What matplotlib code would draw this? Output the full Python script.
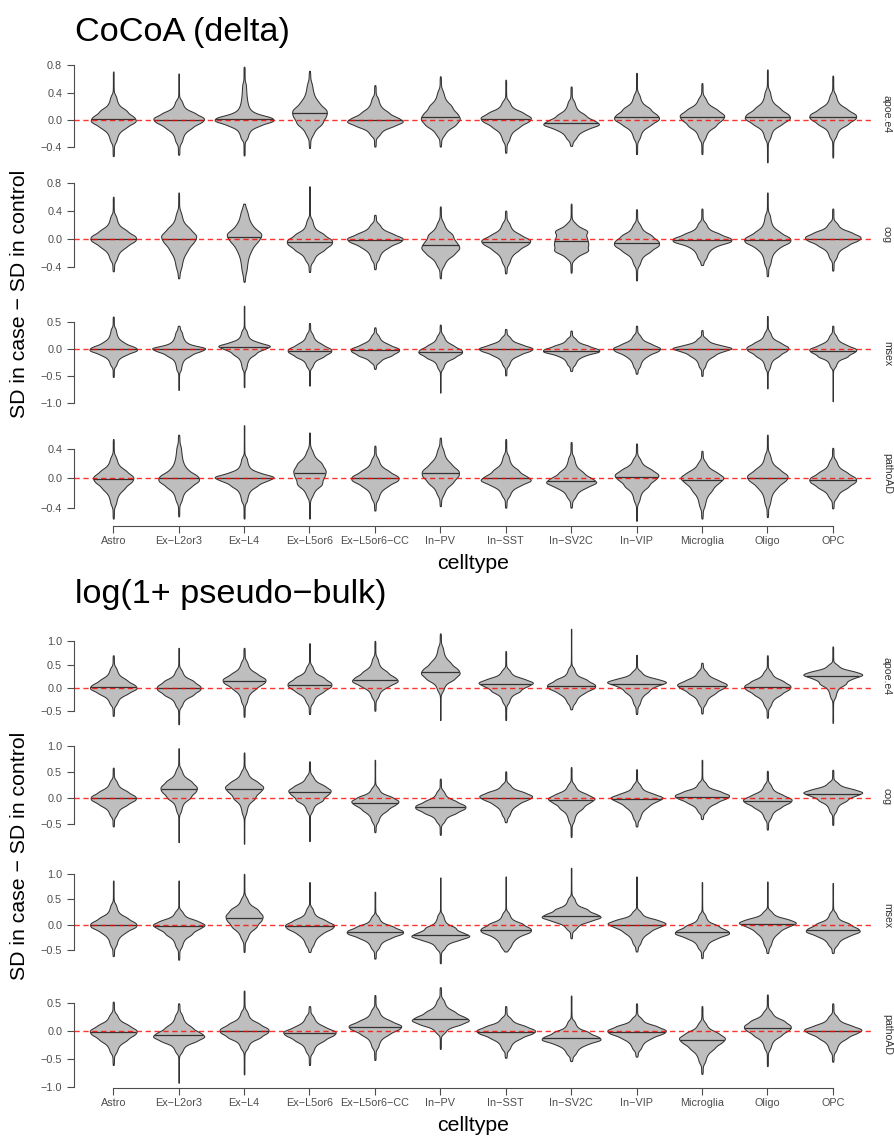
import numpy as np
import matplotlib
matplotlib.use('Agg')
import matplotlib.pyplot as plt

plt.rcParams['font.family'] = ['Liberation Sans', 'DejaVu Sans']

celltypes = ['Astro', 'Ex\u2212L2or3', 'Ex\u2212L4', 'Ex\u2212L5or6', 'Ex\u2212L5or6\u2212CC', 'In\u2212PV',
             'In\u2212SST', 'In\u2212SV2C', 'In\u2212VIP', 'Microglia', 'Oligo', 'OPC']
covariates = ['apoe.e4', 'cog', 'msex', 'pathoAD']

# quantile levels for each violin row: min, 2%, 25%, median, 75%, 98%, max
quant_levels = [0, 0.02, 0.25, 0.5, 0.75, 0.98, 1]

# ---- CoCoA (delta) ----
cocoa_apoe = [
    [-0.53, -0.33, -0.08, 0.01, 0.11, 0.37, 0.71],
    [-0.51, -0.34, -0.09, 0.00, 0.08, 0.30, 0.68],
    [-0.52, -0.29, -0.06, 0.01, 0.09, 0.54, 0.78],
    [-0.41, -0.24, -0.02, 0.10, 0.22, 0.55, 0.72],
    [-0.39, -0.24, -0.07, 0.00, 0.09, 0.34, 0.51],
    [-0.39, -0.24, -0.05, 0.05, 0.17, 0.44, 0.64],
    [-0.48, -0.32, -0.08, 0.01, 0.09, 0.29, 0.59],
    [-0.38, -0.29, -0.11, -0.04, 0.05, 0.29, 0.49],
    [-0.50, -0.29, -0.05, 0.04, 0.14, 0.39, 0.69],
    [-0.50, -0.29, -0.06, 0.04, 0.13, 0.34, 0.54],
    [-0.62, -0.29, -0.04, 0.05, 0.15, 0.44, 0.74],
    [-0.55, -0.27, -0.04, 0.05, 0.14, 0.39, 0.65],
]
cocoa_cog = [
    [-0.46, -0.31, -0.08, 0.01, 0.10, 0.35, 0.61],
    [-0.56, -0.43, -0.12, 0.01, 0.12, 0.40, 0.67],
    [-0.61, -0.48, -0.11, 0.03, 0.14, 0.42, 0.51],
    [-0.47, -0.33, -0.13, -0.04, 0.05, 0.30, 0.76],
    [-0.43, -0.31, -0.09, -0.01, 0.06, 0.23, 0.35],
    [-0.56, -0.40, -0.19, -0.09, 0.03, 0.26, 0.47],
    [-0.49, -0.36, -0.13, -0.04, 0.04, 0.25, 0.41],
    [-0.48, -0.29, -0.14, -0.03, 0.09, 0.25, 0.51],
    [-0.59, -0.38, -0.15, -0.06, 0.03, 0.23, 0.43],
    [-0.37, -0.29, -0.08, -0.01, 0.06, 0.25, 0.44],
    [-0.53, -0.38, -0.10, -0.01, 0.08, 0.37, 0.67],
    [-0.45, -0.29, -0.07, 0.01, 0.08, 0.25, 0.44],
]
cocoa_msex = [
    [-0.51, -0.31, -0.07, 0.01, 0.10, 0.40, 0.61],
    [-0.75, -0.40, -0.09, 0.00, 0.07, 0.34, 0.44],
    [-0.70, -0.37, -0.06, 0.04, 0.11, 0.37, 0.81],
    [-0.67, -0.34, -0.11, -0.02, 0.07, 0.31, 0.49],
    [-0.36, -0.25, -0.09, -0.01, 0.07, 0.28, 0.41],
    [-0.80, -0.37, -0.13, -0.04, 0.05, 0.28, 0.46],
    [-0.48, -0.31, -0.08, 0.00, 0.07, 0.25, 0.38],
    [-0.40, -0.30, -0.09, -0.02, 0.05, 0.22, 0.35],
    [-0.45, -0.34, -0.09, 0.00, 0.08, 0.28, 0.44],
    [-0.49, -0.34, -0.09, 0.00, 0.06, 0.22, 0.36],
    [-0.72, -0.37, -0.09, 0.01, 0.10, 0.34, 0.62],
    [-0.96, -0.34, -0.11, -0.02, 0.06, 0.28, 0.44],
]
cocoa_path = [
    [-0.55, -0.37, -0.11, -0.01, 0.08, 0.31, 0.54],
    [-0.52, -0.33, -0.09, 0.00, 0.10, 0.45, 0.60],
    [-0.55, -0.33, -0.08, 0.00, 0.06, 0.30, 0.73],
    [-0.55, -0.26, -0.05, 0.07, 0.18, 0.40, 0.63],
    [-0.44, -0.30, -0.08, 0.00, 0.08, 0.29, 0.45],
    [-0.38, -0.24, -0.03, 0.07, 0.17, 0.42, 0.56],
    [-0.40, -0.26, -0.07, 0.00, 0.09, 0.33, 0.54],
    [-0.40, -0.28, -0.10, -0.03, 0.06, 0.31, 0.50],
    [-0.58, -0.33, -0.08, 0.02, 0.10, 0.29, 0.48],
    [-0.55, -0.40, -0.13, -0.02, 0.06, 0.24, 0.38],
    [-0.53, -0.37, -0.09, 0.01, 0.10, 0.35, 0.60],
    [-0.41, -0.28, -0.10, -0.02, 0.06, 0.26, 0.42],
]

# ---- log(1+ pseudo-bulk) ----
bulk_apoe = [
    [-0.60, -0.37, -0.09, 0.02, 0.14, 0.45, 0.70],
    [-0.78, -0.41, -0.12, 0.00, 0.12, 0.41, 0.86],
    [-0.62, -0.34, 0.02, 0.15, 0.27, 0.59, 0.86],
    [-0.56, -0.34, -0.05, 0.07, 0.19, 0.49, 0.96],
    [-0.49, -0.23, 0.07, 0.18, 0.31, 0.66, 1.01],
    [-0.69, -0.09, 0.22, 0.35, 0.50, 0.90, 1.17],
    [-0.69, -0.34, -0.04, 0.08, 0.17, 0.41, 0.79],
    [-0.46, -0.34, -0.07, 0.04, 0.15, 0.45, 1.27],
    [-0.56, -0.37, -0.04, 0.09, 0.17, 0.38, 0.71],
    [-0.55, -0.37, -0.08, 0.04, 0.14, 0.38, 0.54],
    [-0.64, -0.41, -0.11, 0.01, 0.12, 0.38, 0.70],
    [-0.75, -0.23, 0.12, 0.25, 0.33, 0.52, 0.89],
]
bulk_cog = [
    [-0.54, -0.35, -0.10, 0.00, 0.10, 0.35, 0.58],
    [-0.84, -0.28, 0.04, 0.17, 0.29, 0.57, 0.95],
    [-0.87, -0.32, 0.03, 0.17, 0.28, 0.54, 0.87],
    [-0.82, -0.28, -0.01, 0.11, 0.21, 0.44, 0.70],
    [-0.65, -0.47, -0.20, -0.09, 0.00, 0.22, 0.73],
    [-0.70, -0.48, -0.26, -0.17, -0.08, 0.15, 0.37],
    [-0.46, -0.35, -0.09, 0.01, 0.09, 0.28, 0.51],
    [-0.74, -0.47, -0.16, -0.04, 0.05, 0.28, 0.59],
    [-0.54, -0.41, -0.13, -0.02, 0.06, 0.28, 0.55],
    [-0.40, -0.28, -0.06, 0.03, 0.11, 0.32, 0.73],
    [-0.60, -0.41, -0.15, -0.05, 0.04, 0.28, 0.52],
    [-0.51, -0.28, -0.02, 0.08, 0.15, 0.32, 0.54],
]
bulk_msex = [
    [-0.61, -0.42, -0.11, 0.00, 0.11, 0.42, 0.87],
    [-0.68, -0.45, -0.15, -0.03, 0.06, 0.29, 0.87],
    [-0.53, -0.29, 0.00, 0.14, 0.27, 0.55, 1.00],
    [-0.53, -0.42, -0.14, -0.03, 0.07, 0.35, 0.84],
    [-0.66, -0.48, -0.23, -0.14, -0.05, 0.19, 0.65],
    [-0.75, -0.49, -0.27, -0.19, -0.08, 0.22, 0.93],
    [-0.52, -0.45, -0.20, -0.10, 0.00, 0.26, 0.95],
    [-0.26, -0.10, 0.10, 0.18, 0.28, 0.55, 1.12],
    [-0.52, -0.39, -0.11, 0.00, 0.08, 0.29, 0.95],
    [-0.65, -0.48, -0.23, -0.14, -0.04, 0.23, 0.84],
    [-0.55, -0.42, -0.11, 0.01, 0.09, 0.29, 0.85],
    [-0.55, -0.42, -0.19, -0.10, 0.00, 0.26, 0.82],
]
bulk_path = [
    [-0.61, -0.40, -0.13, -0.02, 0.08, 0.32, 0.53],
    [-0.93, -0.40, -0.16, -0.07, 0.04, 0.32, 0.50],
    [-0.78, -0.34, -0.09, 0.01, 0.11, 0.38, 0.73],
    [-0.61, -0.40, -0.14, -0.04, 0.05, 0.29, 0.45],
    [-0.52, -0.31, -0.03, 0.07, 0.16, 0.41, 0.65],
    [-0.32, -0.05, 0.14, 0.22, 0.32, 0.58, 0.79],
    [-0.48, -0.34, -0.10, -0.01, 0.07, 0.26, 0.45],
    [-0.54, -0.43, -0.21, -0.13, -0.04, 0.20, 0.64],
    [-0.46, -0.34, -0.10, -0.01, 0.07, 0.26, 0.50],
    [-0.77, -0.58, -0.28, -0.16, -0.06, 0.17, 0.45],
    [-0.63, -0.34, -0.05, 0.06, 0.16, 0.38, 0.66],
    [-0.55, -0.37, -0.10, 0.00, 0.08, 0.29, 0.50],
]

cocoa_yticks = [[-0.4, 0.0, 0.4, 0.8], [-0.4, 0.0, 0.4, 0.8], [-1.0, -0.5, 0.0, 0.5], [-0.4, 0.0, 0.4]]
bulk_yticks = [[-0.5, 0.0, 0.5, 1.0], [-0.5, 0.0, 0.5, 1.0], [-0.5, 0.0, 0.5, 1.0], [-1.0, -0.5, 0.0, 0.5]]

W, H = 894, 1139
fig = plt.figure(figsize=(W / 100, H / 100), dpi=100)

AX_GRAY = '#4D4D4D'
LINE = '#333333'


def pchip(xk, yk, x):
    # monotone cubic (Fritsch-Carlson) through the quantile knots
    xk, yk = np.asarray(xk, float), np.asarray(yk, float)
    h = np.diff(xk)
    d = np.diff(yk) / h
    m = np.zeros(len(xk))
    m[0], m[-1] = d[0], d[-1]
    for i in range(1, len(xk) - 1):
        if d[i - 1] * d[i] > 0:
            w1, w2 = 2 * h[i] + h[i - 1], h[i] + 2 * h[i - 1]
            m[i] = (w1 + w2) / (w1 / d[i - 1] + w2 / d[i])
    idx = np.clip(np.searchsorted(xk, x) - 1, 0, len(h) - 1)
    t = (x - xk[idx]) / h[idx]
    h00 = 2 * t ** 3 - 3 * t ** 2 + 1
    h10 = t ** 3 - 2 * t ** 2 + t
    h01 = -2 * t ** 3 + 3 * t ** 2
    h11 = t ** 3 - t ** 2
    return h00 * yk[idx] + h10 * h[idx] * m[idx] + h01 * yk[idx + 1] + h11 * h[idx] * m[idx + 1]


def violin_stats(q):
    # sample the quantile function, then gaussian KDE (nrd0 bandwidth), trimmed to range
    p = np.linspace(0, 1, 2000)
    x = pchip(quant_levels, q, p)
    iqr = q[4] - q[2]
    bw = 0.9 * min(x.std(), iqr / 1.34) * len(x) ** -0.2
    coords = np.linspace(q[0], q[-1], 300)
    z = (coords[:, None] - x[None, :]) / bw
    dens = np.exp(-0.5 * z ** 2).sum(axis=1) / (len(x) * bw * np.sqrt(2 * np.pi))
    return dict(coords=coords, vals=dens, mean=x.mean(), median=q[3], min=q[0], max=q[-1])


def fmt(v):
    return ('%.1f' % v).replace('-', '\u2212')


def draw_block(offset, title, facets, yticks):
    top0, h, gap = 62 + offset, 105, 14.5
    left, right = 74, 872
    pos = np.arange(1, len(celltypes) + 1)
    for i, (data, ticks) in enumerate(zip(facets, yticks)):
        top = top0 + i * (h + gap)
        ax = fig.add_axes([left / W, 1 - (top + h) / H, (right - left) / W, h / H])
        stats = [violin_stats(q) for q in data]
        peak = max(s['vals'].max() for s in stats)
        widths = [0.9 * s['vals'].max() / peak for s in stats]
        parts = ax.violin(stats, positions=pos, widths=widths,
                          showmeans=False, showextrema=False, showmedians=False)
        for b in parts['bodies']:
            b.set_facecolor('#BEBEBE')
            b.set_edgecolor(LINE)
            b.set_alpha(1)
            b.set_linewidth(0.75)
        for k, s in enumerate(stats):
            half = 0.5 * widths[k] * np.interp(s['median'], s['coords'], s['vals']) / s['vals'].max()
            ax.hlines(s['median'], pos[k] - half, pos[k] + half, color=LINE, lw=0.9, zorder=3)
        ax.axhline(0, color='red', lw=1.0, ls=(0, (3.8, 2.6)), alpha=0.8, zorder=4)

        lo = min(q[0] for q in data)
        hi = max(q[-1] for q in data)
        r = hi - lo
        ax.set_ylim(lo - 0.05 * r, hi + 0.05 * r)
        ax.set_xlim(0.4, len(celltypes) + 0.6)

        for sp in ['top', 'right']:
            ax.spines[sp].set_visible(False)
        ax.spines['left'].set_bounds(ticks[0], ticks[-1])
        ax.spines['left'].set_color(AX_GRAY)
        ax.spines['left'].set_linewidth(0.8)
        ax.set_yticks(ticks)
        ax.set_yticklabels([fmt(t) for t in ticks])
        ax.tick_params(axis='y', length=5, width=0.8, color=AX_GRAY, labelcolor=AX_GRAY,
                       labelsize=7.8, pad=3.5)
        ax.set_xticks(pos)
        if i == len(facets) - 1:
            ax.spines['bottom'].set_bounds(pos[0], pos[-1])
            ax.spines['bottom'].set_color(AX_GRAY)
            ax.spines['bottom'].set_linewidth(0.8)
            ax.set_xticklabels(celltypes)
            ax.tick_params(axis='x', length=5, width=0.8, color=AX_GRAY, labelcolor=AX_GRAY,
                           labelsize=7.8, pad=2.5)
        else:
            ax.spines['bottom'].set_visible(False)
            ax.tick_params(axis='x', length=0, labelbottom=False)

        fig.text(887 / W, 1 - (top + h / 2) / H, covariates[i], rotation=-90,
                 ha='center', va='center', fontsize=7.6, color=LINE)

    bottom = top0 + 4 * h + 3 * gap
    fig.text(75 / W, 1 - (41.5 + offset) / H, title, fontsize=24.7, ha='left', va='baseline')
    fig.text((left + right) / 2 / W, 1 - (569 + offset) / H, 'celltype', fontsize=15.3,
             ha='center', va='baseline')
    fig.text(20 / W, 1 - ((top0 + bottom) / 2) / H, 'SD in case \u2212 SD in control',
             fontsize=15.3, rotation=90, ha='center', va='center')


draw_block(0, 'CoCoA (delta)', [cocoa_apoe, cocoa_cog, cocoa_msex, cocoa_path], cocoa_yticks)
draw_block(562, 'log(1+ pseudo\u2212bulk)', [bulk_apoe, bulk_cog, bulk_msex, bulk_path], bulk_yticks)

fig.savefig('out.png', dpi=100)
